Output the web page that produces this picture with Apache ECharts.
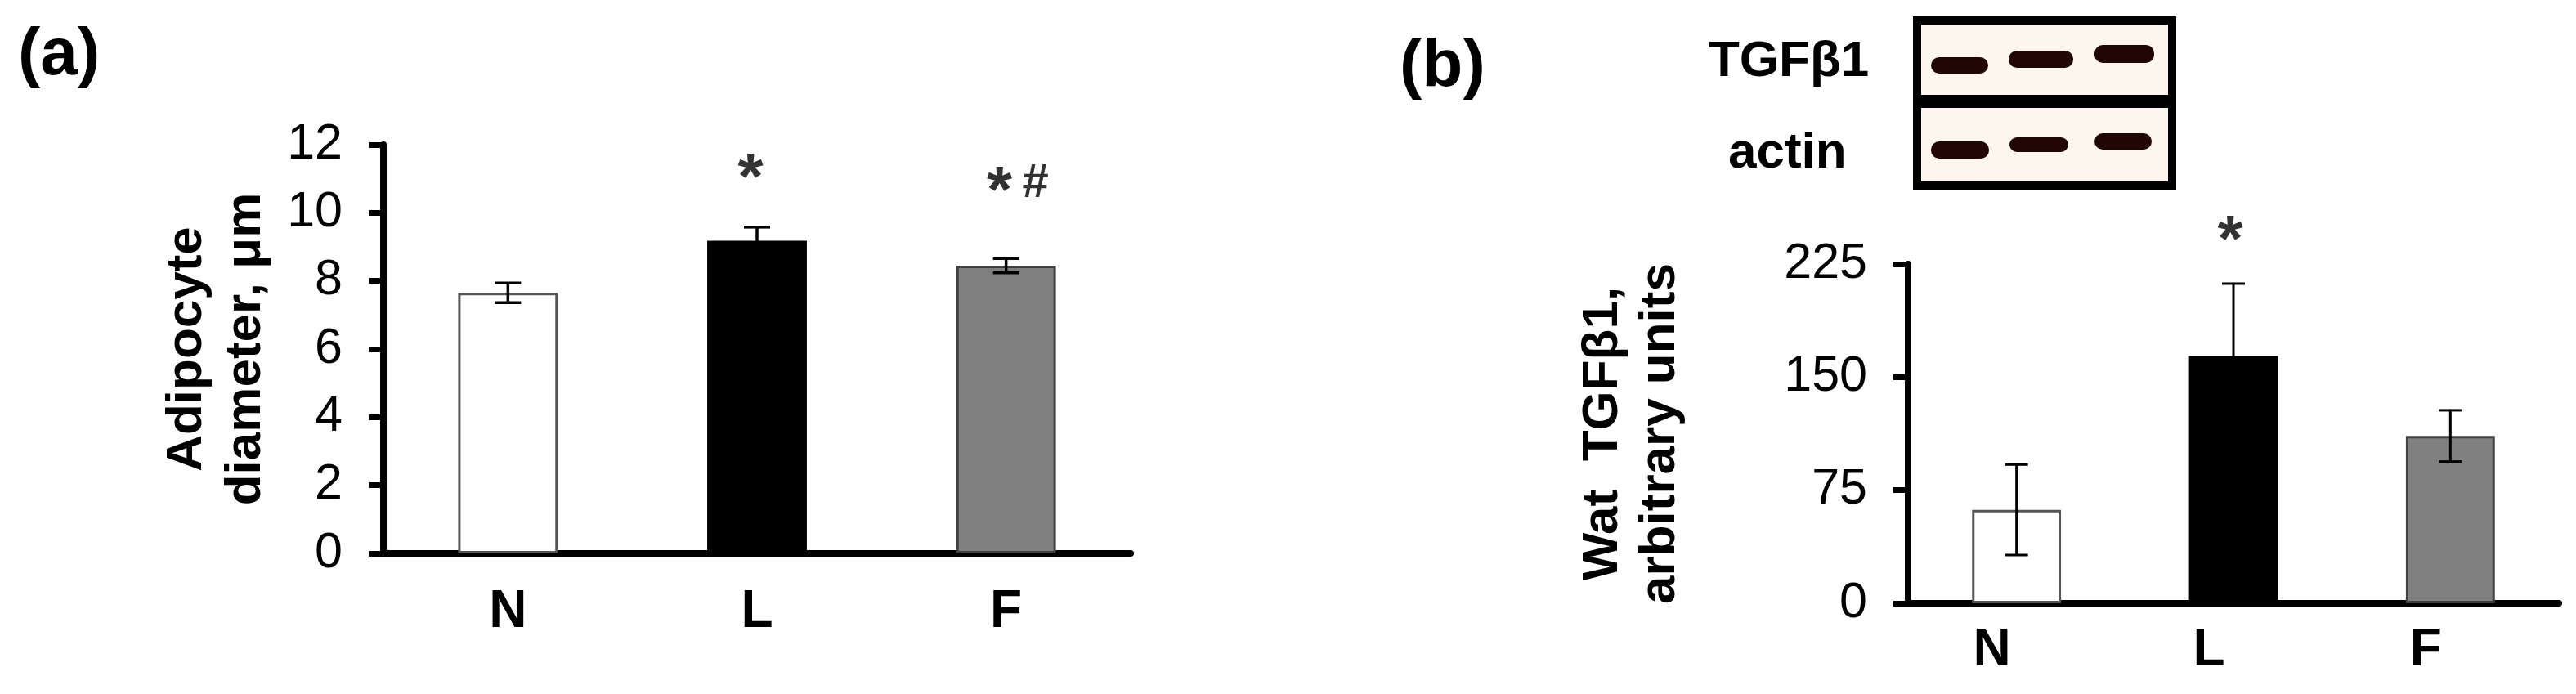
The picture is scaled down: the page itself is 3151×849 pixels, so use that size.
<!DOCTYPE html>
<html><head><meta charset="utf-8">
<script src="https://cdn.jsdelivr.net/npm/echarts@6/dist/echarts.min.js"></script>
<style>html,body{margin:0;padding:0;background:#fff}#c{width:3151px;height:849px}</style>
</head><body><div id="c"></div>
<script>
// ---- data ----
const categories = ['N', 'L', 'F'];
const diameterMean = [7.65, 9.18, 8.45];
const diameterErr = [0.29, 0.40, 0.21];
const diameterAxis = { min: 0, max: 12, interval: 2 };
const tgfMean = [62, 164, 111];
const tgfErr = [30, 48, 17];
const tgfAxis = { min: 0, max: 225, interval: 75 };
// significance marks (value-axis heights of the symbols)
const starA = [null, 10.94, 10.55];
const hashA = [null, null, 10.85];
const starB = [null, 239, null];

// ---- styles ----
const FONT = '"Liberation Sans", Arial, sans-serif';
const fills = ['#ffffff', '#000000', '#808080'];
const borders = ['#555555', '#000000', '#404040'];

function barData(vals) {
  return vals.map((v, i) => ({ value: v, itemStyle: { color: fills[i], borderColor: borders[i], borderWidth: 3 } }));
}
function errData(m, e) { return m.map((v, i) => [i, v, e[i]]); }
function markData(arr) { return arr.map((v, i) => v == null ? null : [i, v]).filter(d => d); }

function errRender(capHalf, lw) {
  return function (params, api) {
    const x = api.value(0), m = api.value(1), e = api.value(2);
    const top = api.coord([x, m + e]);
    const bot = api.coord([x, m - e]);
    const st = { stroke: '#000', lineWidth: lw };
    return { type: 'group', children: [
      { type: 'line', shape: { x1: top[0], y1: top[1], x2: bot[0], y2: bot[1] }, style: st },
      { type: 'line', shape: { x1: top[0] - capHalf, y1: top[1], x2: top[0] + capHalf, y2: top[1] }, style: st },
      { type: 'line', shape: { x1: bot[0] - capHalf, y1: bot[1], x2: bot[0] + capHalf, y2: bot[1] }, style: st }
    ]};
  };
}

function yAxisCfg(ax, idx, name, gap, lh) {
  return {
    type: 'value', gridIndex: idx, min: ax.min, max: ax.max, interval: ax.interval,
    name: name, nameLocation: 'middle', nameGap: gap,
    nameTextStyle: { fontFamily: FONT, fontSize: 62, fontWeight: 'bold', color: '#000', lineHeight: lh },
    axisLine: { show: true, lineStyle: { color: '#000', width: 8 } },
    axisTick: { show: true, length: 18, lineStyle: { color: '#000', width: 7 } },
    axisLabel: { fontFamily: FONT, fontSize: 61, color: '#000', margin: 50 },
    splitLine: { show: false }
  };
}
function xAxisCfg(idx, margin, padding) {
  return {
    type: 'category', gridIndex: idx, data: categories,
    axisLine: { show: true, lineStyle: { color: '#000', width: 8 } },
    axisTick: { show: false },
    axisLabel: { fontFamily: FONT, fontSize: 64, fontWeight: 'bold', color: '#000', margin: margin, padding: padding }
  };
}
function markSeries(idx, arr, text, size, offset) {
  return {
    type: 'scatter', xAxisIndex: idx, yAxisIndex: idx, clip: false, symbolSize: 1,
    itemStyle: { color: 'rgba(0,0,0,0)' }, silent: true, z: 5,
    data: markData(arr),
    label: { show: true, position: 'inside', formatter: text, fontFamily: FONT, fontSize: size, fontWeight: 'bold', color: '#000', offset: offset }
  };
}

const blotBands = [
  [2362, 70, 70, 20], [2457, 62, 79, 21], [2562, 55, 73, 22],
  [2362, 173, 71, 21], [2458, 168, 72, 18], [2562, 163, 70, 20]
];

const option = {
  backgroundColor: '#fff',
  animation: false,
  grid: [
    { left: 469, right: 3151 - 1383, top: 177, bottom: 849 - 677 },
    { left: 2334, right: 3151 - 3130, top: 323, bottom: 849 - 738 }
  ],
  xAxis: [xAxisCfg(0, 40, [0, 0, 0, 0]), xAxisCfg(1, 26, [0, 60, 0, 0])],
  yAxis: [
    yAxisCfg(diameterAxis, 0, 'Adipocyte\ndiameter, μm', 132, 72),
    yAxisCfg(tgfAxis, 1, 'Wat  TGFβ1,\narbitrary units', 268, 70)
  ],
  series: [
    { type: 'bar', xAxisIndex: 0, yAxisIndex: 0, barWidth: '40%', data: barData(diameterMean) },
    { type: 'custom', xAxisIndex: 0, yAxisIndex: 0, z: 4, renderItem: errRender(16, 3.5), data: errData(diameterMean, diameterErr) },
    { type: 'bar', xAxisIndex: 1, yAxisIndex: 1, barWidth: '41%', data: barData(tgfMean) },
    { type: 'custom', xAxisIndex: 1, yAxisIndex: 1, z: 4, renderItem: errRender(14, 3), data: errData(tgfMean, tgfErr) },
    markSeries(0, starA, '*', 80, [-8, 0]),
    markSeries(0, hashA, '#', 58, [36, 0]),
    markSeries(1, starB, '*', 80, [-4, 0])
  ],
  graphic: [
    { type: 'text', x: 22, y: 68, style: { text: '(a)', font: 'bold 82px ' + FONT, fill: '#000', align: 'left', verticalAlign: 'middle' } },
    { type: 'text', x: 1712, y: 82, style: { text: '(b)', font: 'bold 82px ' + FONT, fill: '#000', align: 'left', verticalAlign: 'middle' } },
    { type: 'text', x: 2090, y: 76, style: { text: 'TGFβ1', font: 'bold 62px ' + FONT, fill: '#000', align: 'left', verticalAlign: 'middle' } },
    { type: 'text', x: 2114, y: 188, style: { text: 'actin', font: 'bold 62px ' + FONT, fill: '#000', align: 'left', verticalAlign: 'middle' } },
    { type: 'rect', shape: { x: 2345, y: 25, width: 312, height: 202 }, style: { fill: '#fcf6ee', stroke: '#000', lineWidth: 10 } },
    { type: 'rect', shape: { x: 2340, y: 116, width: 322, height: 16 }, style: { fill: '#000' } }
  ].concat(blotBands.map(b => ({
    type: 'rect', shape: { x: b[0], y: b[1], width: b[2], height: b[3], r: 10 }, style: { fill: '#220603' }
  })))
};

const chart = echarts.init(document.getElementById('c'), null, { renderer: 'canvas' });
chart.setOption(option);
</script>
</body></html>
